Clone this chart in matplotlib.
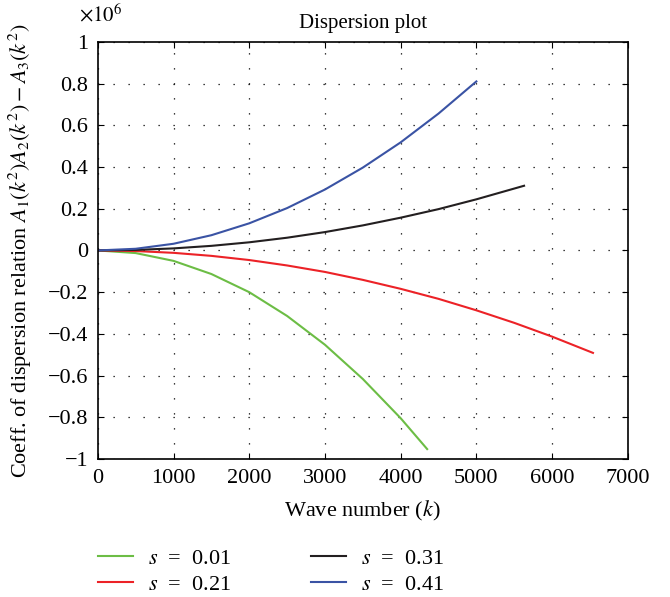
import numpy as np
import matplotlib.pyplot as plt
from matplotlib.ticker import FuncFormatter

plt.rcParams['font.family'] = ['Liberation Serif', 'DejaVu Serif']
plt.rcParams['mathtext.fontset'] = 'stix'

# wave number k and dispersion coefficient for each s
k_001 = [0, 500, 1000, 1500, 2000, 2500, 3000, 3500, 4000, 4350]
c_001 = [0, -0.0126e6, -0.05e6, -0.113e6, -0.2e6, -0.314e6, -0.452e6, -0.616e6, -0.804e6, -0.952e6]

k_021 = [0, 500, 1000, 1500, 2000, 2500, 3000, 3500, 4000, 4500, 5000, 5500, 6000, 6540]
c_021 = [0, -0.0029e6, -0.0115e6, -0.026e6, -0.046e6, -0.072e6, -0.103e6, -0.141e6,
         -0.184e6, -0.232e6, -0.287e6, -0.347e6, -0.413e6, -0.491e6]

k_031 = [0, 500, 1000, 1500, 2000, 2500, 3000, 3500, 4000, 4500, 5000, 5630]
c_031 = [0, 0.0025e6, 0.0098e6, 0.022e6, 0.039e6, 0.061e6, 0.088e6, 0.120e6,
         0.157e6, 0.198e6, 0.245e6, 0.31e6]

k_041 = [0, 500, 1000, 1500, 2000, 2500, 3000, 3500, 4000, 4500, 5000]
c_041 = [0, 0.008e6, 0.032e6, 0.073e6, 0.13e6, 0.203e6, 0.292e6, 0.397e6,
         0.518e6, 0.656e6, 0.81e6]

fig = plt.figure(figsize=(6.7, 5.97), dpi=100)
ax = fig.add_axes([0.146, 0.231, 0.791, 0.699])

l1, = ax.plot(k_001, c_001, color='#6cbd45', lw=1.5, label='$s$  =  0.01')
l2, = ax.plot(k_021, c_021, color='#ec2227', lw=1.5, label='$s$  =  0.21')
l3, = ax.plot(k_031, c_031, color='#231f20', lw=1.5, label='$s$  =  0.31')
l4, = ax.plot(k_041, c_041, color='#3a53a4', lw=1.5, label='$s$  =  0.41')

ax.set_xlim(0, 7000)
ax.set_ylim(-1e6, 1e6)
ax.set_xticks(np.arange(0, 7001, 1000))
ax.set_yticks(np.arange(-1e6, 1.01e6, 0.2e6))
ax.yaxis.set_major_formatter(FuncFormatter(
    lambda v, p: '{:g}'.format(round(v / 1e6, 1)).replace('-', '\u2212')))
ax.tick_params(direction='in', top=True, right=True, labelsize=16, length=4)
ax.tick_params(axis='x', pad=7)
ax.tick_params(axis='y', pad=7)
ax.grid(True, color='black', linestyle=(0, (1, 11)), linewidth=0.9)
for sp in ax.spines.values():
    sp.set_linewidth(1.2)

fig.text(0.118, 0.955, r'$\times10^{6}$', fontsize=15, ha='left', va='bottom')
ax.set_title('Dispersion plot', fontsize=15, pad=10)
ax.set_xlabel('Wave number ($k$)', fontsize=16, labelpad=8)
ax.set_ylabel('Coeff. of dispersion relation $A_1(k^2)A_2(k^2) - A_3(k^2)$',
              fontsize=16, labelpad=10)

fig.legend(handles=[l1, l2, l3, l4], loc='upper left', bbox_to_anchor=(0.146, 0.082),
           ncol=2, frameon=False, fontsize=16, handlelength=1.6, handletextpad=0.65,
           columnspacing=3.6, labelspacing=0.25, borderpad=0, borderaxespad=0)

fig.savefig('out.png', dpi=100)
